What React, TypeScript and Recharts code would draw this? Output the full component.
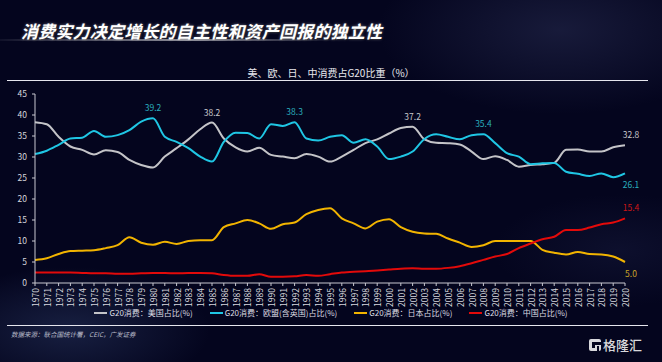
import React from "react";
import { LabelList, Line, LineChart, XAxis, YAxis } from "recharts";

const years = [
  "1970", "1971", "1972", "1973", "1974", "1975", "1976", "1977", "1978", "1979",
  "1980", "1981", "1982", "1983", "1984", "1985", "1986", "1987", "1988", "1989",
  "1990", "1991", "1992", "1993", "1994", "1995", "1996", "1997", "1998", "1999",
  "2000", "2001", "2002", "2003", "2004", "2005", "2006", "2007", "2008", "2009",
  "2010", "2011", "2012", "2013", "2014", "2015", "2016", "2017", "2018", "2019",
  "2020"
];

const usShare = [
  38.3, 37.8, 34.8, 32.5, 31.7, 30.6, 31.6, 31.2, 29.3, 28.1,
  27.5, 30.1, 32.1, 34.2, 36.6, 38.2, 34.4, 32.3, 31.3, 32.2,
  30.5, 30.1, 29.7, 30.7, 30.1, 28.9, 30.1, 31.7, 33.3, 34.2,
  35.6, 36.9, 37.2, 34.2, 33.4, 33.3, 33.0, 31.3, 29.5, 30.2,
  29.3, 27.7, 28.1, 28.3, 28.6, 31.7, 31.8, 31.3, 31.3, 32.3,
  32.8
];

const euShare = [
  30.7, 31.5, 32.9, 34.4, 34.6, 36.2, 34.8, 35.2, 36.4, 38.4,
  39.2, 34.8, 33.6, 32.1, 30.1, 28.9, 33.6, 35.8, 35.7, 34.4,
  37.8, 37.4, 38.3, 34.4, 33.9, 34.8, 35.2, 33.4, 34.2, 32.5,
  29.5, 30.1, 31.3, 34.3, 35.4, 34.8, 34.2, 35.2, 35.4, 33.3,
  30.9, 30.1, 28.3, 28.5, 28.6, 26.5, 26.0, 25.5, 26.1, 25.2,
  26.1
];

const jpShare = [
  5.5, 5.9, 6.9, 7.6, 7.7, 7.8, 8.3, 9.0, 10.9, 9.6,
  9.1, 9.8, 9.3, 10.0, 10.2, 10.2, 13.3, 14.2, 15.0, 14.2,
  12.9, 14.0, 14.4, 16.4, 17.4, 17.8, 15.4, 14.2, 13.0, 14.6,
  15.2, 13.3, 12.2, 11.8, 11.7, 10.6, 9.6, 8.6, 9.0, 10.0,
  10.0, 10.0, 10.0, 7.9, 7.2, 6.8, 7.4, 6.9, 6.8, 6.3,
  5.0
];

const cnShare = [
  2.5, 2.5, 2.5, 2.5, 2.4, 2.3, 2.3, 2.2, 2.2, 2.3,
  2.4, 2.4, 2.3, 2.4, 2.4, 2.3, 1.9, 1.7, 1.7, 2.1,
  1.5, 1.5, 1.6, 1.9, 1.7, 2.1, 2.5, 2.7, 2.8, 3.0,
  3.2, 3.4, 3.5, 3.4, 3.4, 3.6, 4.0, 4.7, 5.5, 6.3,
  6.9, 8.3, 9.4, 10.4, 11.0, 12.6, 12.6, 13.2, 14.0, 14.4,
  15.4
];

const yTicks = [0, 5, 10, 15, 20, 25, 30, 35, 40, 45];

const series = [
  { key: "us", name: "G20消费：美国占比(%)", color: "#c4c4c8", labelColor: "#c8c8cc", labels: ["1985", "2002", "2020"], below: false },
  { key: "eu", name: "G20消费：欧盟(含英国)占比(%)", color: "#1fc6e4", labelColor: "#2aaebf", labels: ["1980", "1992", "2008", "2020"], below: true },
  { key: "jp", name: "G20消费：日本占比(%)", color: "#f2b400", labelColor: "#c9a227", labels: ["2020"], below: true },
  { key: "cn", name: "G20消费：中国占比(%)", color: "#e30a0a", labelColor: "#cc1616", labels: ["2020"], below: false }
];

const data = years.map((year, i) => ({
  year,
  us: usShare[i],
  eu: euShare[i],
  jp: jpShare[i],
  cn: cnShare[i]
}));

const font = '"Noto Sans CJK SC", "Noto Sans", sans-serif';

function YearTick({ x, y, payload }: any) {
  return (
    <g transform={`translate(${x},${y})`}>
      <text
        transform="rotate(-90)"
        textAnchor="end"
        dominantBaseline="central"
        fontSize={8.5}
        fill="#d6d6dc"
        fontFamily={font}
      >
        {payload.value}
      </text>
    </g>
  );
}

function makeLabel(s: (typeof series)[number]) {
  return (props: any) => {
    const { x, y, value, index } = props;
    const year = years[index];
    if (!s.labels.includes(year)) return null;
    const isLast = year === "2020";
    // end-of-line labels: EU and Japan sit under the line
    const under = isLast && s.below;
    return (
      <text
        x={x + (isLast ? 6 : 0)}
        y={under ? y + 15 : y - 7}
        textAnchor="middle"
        fontSize={8.5}
        fill={s.labelColor}
        fontFamily={font}
      >
        {Number(value).toFixed(1)}
      </text>
    );
  };
}

export default function App() {
  return (
    <div
      style={{
        position: "absolute",
        left: 0,
        top: 0,
        width: 662,
        height: 362,
        overflow: "hidden",
        fontFamily: font,
        background:
          "radial-gradient(ellipse 260px 120px at 560px 30px, rgba(60,66,110,0.35), transparent 70%)," +
          "radial-gradient(ellipse 200px 90px at 70px 330px, rgba(60,80,130,0.35), transparent 70%)," +
          "radial-gradient(ellipse 180px 80px at 620px 250px, rgba(40,46,90,0.25), transparent 70%)," +
          "#04051e"
      }}
    >
      <div
        style={{
          position: "absolute",
          left: 21,
          top: 18,
          fontSize: 17,
          fontWeight: 700,
          fontStyle: "italic",
          color: "#ffffff",
          whiteSpace: "nowrap",
          letterSpacing: 0.2,
          textShadow: "0 0 3px rgba(255,255,255,0.45), 1px 1px 1px rgba(0,0,0,0.6)"
        }}
      >
        消费实力决定增长的自主性和资产回报的独立性
      </div>
      <div
        style={{
          position: "absolute",
          left: 0,
          top: 39,
          width: 340,
          height: 2,
          background:
            "linear-gradient(90deg, rgba(255,255,255,0.05), rgba(255,255,255,0.55) 55%, rgba(255,255,255,0) 100%)",
          filter: "blur(0.6px)"
        }}
      />

      <div
        style={{
          position: "absolute",
          left: 0,
          width: 662,
          top: 65,
          textAlign: "center",
          fontSize: 10,
          color: "#e8e8ee",
          whiteSpace: "nowrap"
        }}
      >
        美、欧、日、中消费占G20比重（%）
      </div>
      <div style={{ position: "absolute", left: 7, top: 80, width: 641, height: 1, background: "#e6e6ee" }} />

      <LineChart
        width={662}
        height={362}
        data={data}
        margin={{ top: 94, right: 37, bottom: 49, left: 0 }}
        style={{ position: "absolute", left: 0, top: 0 }}
      >
        <XAxis
          dataKey="year"
          interval={0}
          height={30}
          tick={<YearTick />}
          tickSize={3}
          tickMargin={2}
          stroke="#c8c8d0"
          tickLine={{ stroke: "#c8c8d0" }}
        />
        <YAxis
          domain={[0, 45]}
          ticks={yTicks}
          width={35}
          tickSize={3}
          tickMargin={5}
          stroke="#c8c8d0"
          tick={{ fontSize: 8.5, fill: "#d6d6dc", fontFamily: font }}
        />
        {series.map((s) => (
          <Line
            key={s.key}
            type="monotone"
            dataKey={s.key}
            name={s.name}
            stroke={s.color}
            strokeWidth={2}
            dot={false}
            activeDot={false}
            isAnimationActive={false}
          >
            <LabelList dataKey={s.key} content={makeLabel(s)} />
          </Line>
        ))}
      </LineChart>

      <div
        style={{
          position: "absolute",
          left: 0,
          width: 662,
          top: 307,
          display: "flex",
          justifyContent: "center",
          gap: 17,
          fontSize: 8,
          color: "#dcdce2",
          whiteSpace: "nowrap"
        }}
      >
        {series.map((s) => (
          <div key={s.key} style={{ display: "flex", alignItems: "center", gap: 2 }}>
            <span style={{ display: "inline-block", width: 13, height: 2, background: s.color }} />
            <span>{s.name}</span>
          </div>
        ))}
      </div>

      <div style={{ position: "absolute", left: 7, top: 325, width: 641, height: 1, background: "#e6e6ee" }} />
      <div
        style={{
          position: "absolute",
          left: 11,
          top: 329,
          fontSize: 6.5,
          fontStyle: "italic",
          color: "#b8bac8",
          whiteSpace: "nowrap"
        }}
      >
        数据来源：联合国统计署，CEIC，广发证券
      </div>

      <div style={{ position: "absolute", left: 589, top: 335, display: "flex", alignItems: "center", gap: 2 }}>
        <svg width={12} height={12} viewBox="0 0 12 12">
          <rect x={0} y={0} width={12} height={12} rx={2} fill="#d8d8dc" />
          <rect x={3} y={3} width={9} height={3} fill="#04051e" />
          <rect x={3} y={6} width={3} height={3} fill="#04051e" />
          <rect x={8} y={7} width={2} height={5} fill="#04051e" />
        </svg>
        <span style={{ fontSize: 13, color: "#d8d8dc", fontWeight: 500, letterSpacing: 0 }}>格隆汇</span>
      </div>
    </div>
  );
}
